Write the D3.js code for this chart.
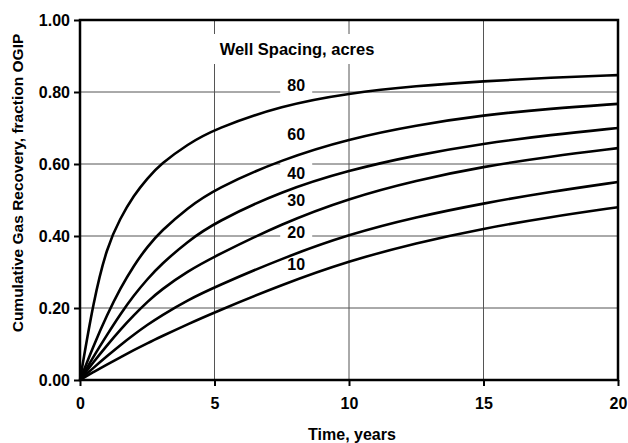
<!DOCTYPE html>
<html><head><meta charset="utf-8">
<script src="https://cdn.jsdelivr.net/npm/d3@7"></script>
<style>body{margin:0;background:#fff}svg{display:block}text{font-family:"Liberation Sans",Arial,sans-serif;font-weight:bold;fill:#000}</style>
</head><body><svg id="c" width="628" height="443"></svg>
<script>
const times = [0, 0.5, 1, 1.5, 2, 2.5, 3, 4, 5, 7.5, 10, 12.5, 15, 17.5, 20];
const spacing80 = [0, 0.22, 0.37, 0.45, 0.513, 0.56, 0.60, 0.655, 0.697, 0.763, 0.797, 0.817, 0.83, 0.84, 0.847];
const spacing60 = [0, 0.095, 0.18, 0.255, 0.318, 0.37, 0.413, 0.478, 0.53, 0.613, 0.67, 0.708, 0.736, 0.754, 0.767];
const spacing40 = [0, 0.065, 0.125, 0.183, 0.235, 0.28, 0.32, 0.385, 0.437, 0.525, 0.583, 0.625, 0.657, 0.681, 0.70];
const spacing30 = [0, 0.05, 0.096, 0.14, 0.18, 0.217, 0.25, 0.302, 0.343, 0.435, 0.505, 0.555, 0.593, 0.621, 0.644];
const spacing20 = [0, 0.034, 0.066, 0.097, 0.126, 0.153, 0.178, 0.222, 0.258, 0.338, 0.405, 0.453, 0.491, 0.523, 0.55];
const spacing10 = [0, 0.022, 0.043, 0.063, 0.083, 0.102, 0.12, 0.155, 0.188, 0.265, 0.331, 0.381, 0.421, 0.453, 0.48];
const seriesNames = ["80", "60", "40", "30", "20", "10"];
const seriesValues = [spacing80, spacing60, spacing40, spacing30, spacing20, spacing10];
const labelTimes = [8, 8, 8, 8, 8, 8];
const labelValues = [0.819, 0.681, 0.575, 0.50, 0.409, 0.322];
const xTicks = [0, 5, 10, 15, 20];
const yTicks = [0, 0.2, 0.4, 0.6, 0.8, 1.0];
const legendTitle = "Well Spacing, acres";
const xTitle = "Time, years";
const yTitle = "Cumulative Gas Recovery, fraction OGIP";

const svg = d3.select("#c");
const L = 80, R = 618, T = 20, B = 380;
const x = d3.scaleLinear().domain([0, 20]).range([L, R]);
const y = d3.scaleLinear().domain([0, 1]).range([B, T]);

// gridlines
const grid = svg.append("g");
grid.selectAll("line.h").data(yTicks.filter(v => v > 0 && v < 1)).join("line")
  .attr("x1", L).attr("x2", R).attr("y1", d => y(d)).attr("y2", d => y(d))
  .attr("stroke", "#555").attr("stroke-width", 1);
grid.selectAll("line.v").data(xTicks.filter(v => v > 0 && v < 20)).join("line")
  .attr("y1", T).attr("y2", B).attr("x1", d => x(d)).attr("x2", d => x(d))
  .attr("stroke", "#555").attr("stroke-width", 1);

// label background boxes (break gridlines)
svg.append("rect").attr("x", x(5) - 3).attr("y", 34).attr("width", 168).attr("height", 30).attr("fill", "#fff");
seriesNames.forEach((n, i) => {
  svg.append("rect").attr("x", x(labelTimes[i]) - 15).attr("y", y(labelValues[i]) - 10)
    .attr("width", 32).attr("height", 19).attr("fill", "#fff");
});

// curves
const line = d3.line().x((d, i) => x(times[i])).y(d => y(d)).curve(d3.curveBasis);
svg.append("g").selectAll("path").data(seriesValues).join("path")
  .attr("d", line).attr("fill", "none").attr("stroke", "#000").attr("stroke-width", 2.6)
  .attr("stroke-linejoin", "round");

// frame
svg.append("rect").attr("x", L).attr("y", T).attr("width", R - L).attr("height", B - T)
  .attr("fill", "none").attr("stroke", "#000").attr("stroke-width", 2.5);

// axes
const yAxis = svg.append("g").attr("transform", `translate(${L},0)`)
  .call(d3.axisLeft(y).tickValues(yTicks).tickFormat(d3.format(".2f")).tickSize(6).tickPadding(4));
const xAxis = svg.append("g").attr("transform", `translate(0,${B})`)
  .call(d3.axisBottom(x).tickValues(xTicks).tickFormat(d3.format("d")).tickSize(6).tickPadding(12));
[yAxis, xAxis].forEach(a => {
  a.select(".domain").remove();
  a.selectAll(".tick line").attr("stroke", "#000").attr("stroke-width", 2);
  a.selectAll(".tick text").style("font-family", '"Liberation Sans",Arial,sans-serif')
    .style("font-weight", "bold").style("font-size", "16px").attr("fill", "#000");
});

// curve labels
seriesNames.forEach((n, i) => {
  svg.append("text").attr("x", x(labelTimes[i]) + 1).attr("y", y(labelValues[i]))
    .attr("text-anchor", "middle").attr("dominant-baseline", "central")
    .style("font-size", "16px").text(n);
});
svg.append("text").attr("x", 297).attr("y", 49).attr("text-anchor", "middle")
  .attr("dominant-baseline", "central").style("font-size", "16.5px").text(legendTitle);

svg.append("text").attr("x", 352).attr("y", 440).attr("text-anchor", "middle")
  .style("font-size", "16px").text(xTitle);
svg.append("text").attr("transform", "translate(23,183) rotate(-90)").attr("text-anchor", "middle")
  .style("font-size", "15.5px").text(yTitle);
</script></body></html>
